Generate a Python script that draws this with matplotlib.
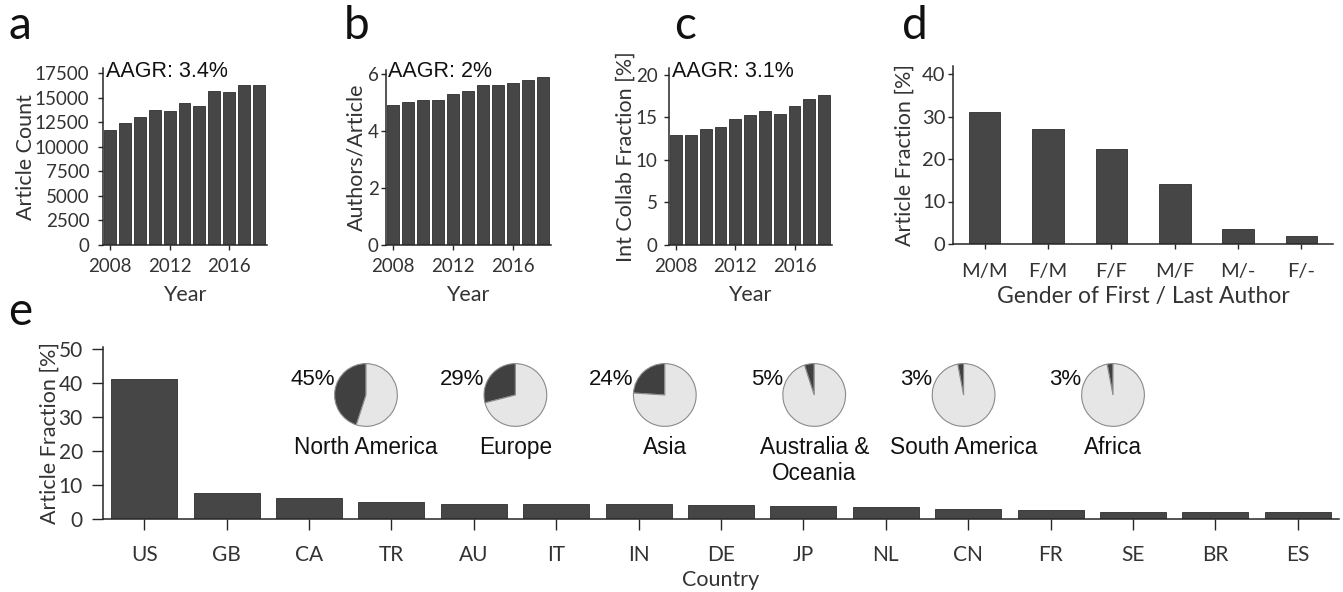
import matplotlib
matplotlib.use("Agg")
import matplotlib.pyplot as plt

plt.rcParams['font.family'] = ['Lato', 'DejaVu Sans']

# ---------------- data ----------------
years = [2008, 2009, 2010, 2011, 2012, 2013, 2014, 2015, 2016, 2017, 2018]
year_ticks = [2008, 2012, 2016]
article_count = [11700, 12400, 13050, 13750, 13700, 14450, 14150, 15650, 15600, 16350, 16350]
authors_per_article = [4.9, 5.0, 5.1, 5.1, 5.3, 5.4, 5.6, 5.6, 5.7, 5.8, 5.9]
intl_collab_pct = [12.95, 12.95, 13.55, 13.8, 14.75, 15.3, 15.7, 15.35, 16.35, 17.15, 17.65]
aagr_labels = ['AAGR: 3.4%', 'AAGR: 2%', 'AAGR: 3.1%']

gender_pairs = ['M/M', 'F/M', 'F/F', 'M/F', 'M/-', 'F/-']
gender_pct = [31.0, 27.0, 22.3, 14.1, 3.5, 2.0]

countries = ['US', 'GB', 'CA', 'TR', 'AU', 'IT', 'IN', 'DE', 'JP', 'NL', 'CN', 'FR', 'SE', 'BR', 'ES']
country_pct = [41.2, 7.6, 6.05, 5.0, 4.5, 4.3, 4.3, 4.1, 3.8, 3.4, 3.0, 2.6, 2.2, 2.2, 1.95]

regions = ['North America', 'Europe', 'Asia', 'Australia &\nOceania', 'South America', 'Africa']
region_pct = [45, 29, 24, 5, 3, 3]

# ---------------- style ----------------
W, H = 1343, 592
BAR = '#464646'
DARK = '#404040'
LIGHT = '#e6e6e6'
TXT = '#333333'
AX = '#262626'
LABEL_SIZE = 15.5

fig = plt.figure(figsize=(W / 100, H / 100), dpi=100)


def px_box(left, top, right, bottom):
    return [left / W, 1 - bottom / H, (right - left) / W, (bottom - top) / H]


def style_axes(ax, tick_len, xpad, ypad, labelsize):
    for s in ('top', 'right'):
        ax.spines[s].set_visible(False)
    for s in ('left', 'bottom'):
        ax.spines[s].set_color(AX)
        ax.spines[s].set_linewidth(1.1)
    ax.tick_params(axis='both', direction='out', length=tick_len, width=1.0,
                   color=AX, labelcolor=TXT, labelsize=labelsize)
    ax.tick_params(axis='x', pad=xpad)
    ax.tick_params(axis='y', pad=ypad)


def place_ylabel(ax, box, x_px):
    left, top, right, bottom = box
    ax.yaxis.set_label_coords((x_px - left) / (right - left), 0.5)


def place_xlabel(ax, box, y_px):
    left, top, right, bottom = box
    ax.xaxis.set_label_coords(0.5, (bottom - y_px) / (bottom - top))


# ---------------- panels a-c: yearly bars ----------------
yearly = [
    (article_count, (0, 18000), [0, 2500, 5000, 7500, 10000, 12500, 15000, 17500],
     'Article Count', (102.5, 68.4, 266.5, 245), 36, 6.0),
    (authors_per_article, (0, 6.15), [0, 2, 4, 6],
     'Authors/Article', (385.5, 69.7, 550.5, 245), 366, 1.5),
    (intl_collab_pct, (0, 20.8), [0, 5, 10, 15, 20],
     'Int Collab Fraction [%]', (668.6, 67.7, 831.6, 245), 636, 4.5),
]

for (vals, ylim, yticks, ylabel, box, ylab_x, ypad), aagr in zip(yearly, aagr_labels):
    ax = fig.add_axes(px_box(*box))
    ax.bar(years, vals, width=0.8, color=BAR, edgecolor='#2e2e2e', linewidth=0.6)
    ax.set_xlim(2007.5, 2018.5)
    ax.set_ylim(*ylim)
    ax.set_xticks(year_ticks)
    ax.set_yticks(yticks)
    style_axes(ax, 3.5, 6.0, ypad, 13.5)
    ax.set_ylabel(ylabel, fontsize=LABEL_SIZE, color=TXT)
    ax.set_xlabel('Year', fontsize=LABEL_SIZE, color=TXT, va='top')
    place_ylabel(ax, box, ylab_x)
    place_xlabel(ax, box, 285)
    h = box[3] - box[1]
    ax.text(3 / (box[2] - box[0]), (box[3] - 77) / h, aagr, transform=ax.transAxes,
            family='Liberation Sans', fontsize=15.5, color='#111111', va='baseline', ha='left')

# ---------------- panel d: gender pairs ----------------
box_d = (953, 65.5, 1333, 244)
axd = fig.add_axes(px_box(*box_d))
xd = list(range(len(gender_pairs)))
axd.bar(xd, gender_pct, width=0.5, color=BAR, edgecolor='#2e2e2e', linewidth=0.6)
axd.set_xlim(-0.5, 5.5)
axd.set_ylim(0, 42)
axd.set_yticks([0, 10, 20, 30, 40])
axd.set_xticks(xd)
axd.set_xticklabels(gender_pairs)
style_axes(axd, 3.5, 10.5, 2, 14.5)
axd.set_ylabel('Article Fraction [%]', fontsize=LABEL_SIZE, color=TXT)
axd.set_xlabel('Gender of First / Last Author', fontsize=16.5, color=TXT, va='top')
place_ylabel(axd, box_d, 915)
place_xlabel(axd, box_d, 286)

# ---------------- panel e: countries ----------------
box_e = (103, 347.3, 1339, 519)
axe = fig.add_axes(px_box(*box_e))
xe = list(range(len(countries)))
axe.bar(xe, country_pct, width=0.8, color=BAR, edgecolor='#2e2e2e', linewidth=0.6)
axe.set_xlim(-0.5, 14.5)
axe.set_ylim(0, 50.5)
axe.set_yticks([0, 10, 20, 30, 40, 50])
axe.set_xticks(xe)
axe.set_xticklabels(countries)
style_axes(axe, 8, 11, 6.5, 15)
axe.set_ylabel('Article Fraction [%]', fontsize=LABEL_SIZE, color=TXT)
axe.set_xlabel('Country', fontsize=LABEL_SIZE, color=TXT, va='top')
place_ylabel(axe, box_e, 60)
place_xlabel(axe, box_e, 570)

# ---------------- regional pies ----------------
pie_r = 32
for i, (name, pct) in enumerate(zip(regions, region_pct)):
    cx, cy = 366 + i * 149.4, 395
    pax = fig.add_axes(px_box(cx - pie_r, cy - pie_r, cx + pie_r, cy + pie_r))
    pax.pie([pct, 100 - pct], colors=[DARK, LIGHT], startangle=90, counterclock=True,
            radius=1.0, wedgeprops=dict(edgecolor='#8a8a8a', linewidth=0.8))
    pax.set_xlim(-1.02, 1.02)
    pax.set_ylim(-1.02, 1.02)
    pax.set_aspect('equal')
    pax.axis('off')
    pax.text(-1.0, 0.5, f'{pct}%', ha='right', va='center', family='Liberation Sans',
             fontsize=16, color='#111111', clip_on=False)
    pax.text(0, -1.3, name, ha='center', va='top', family='Liberation Sans',
             fontsize=16.3, color='#111111', linespacing=1.2, clip_on=False)

# ---------------- panel letters ----------------
for letter, x, y in [('a', 9, 39), ('b', 344, 39), ('c', 674, 39), ('d', 902, 39), ('e', 8, 325)]:
    fig.text(x / W, 1 - y / H, letter, fontsize=33, color='#111111', va='baseline', ha='left')

fig.savefig('out.png', dpi=100, facecolor='white')
